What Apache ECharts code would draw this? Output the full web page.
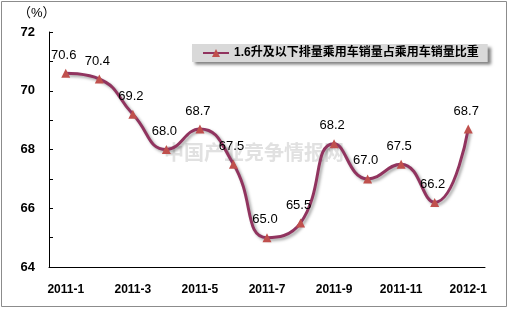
<!DOCTYPE html>
<html><head><meta charset="utf-8">
<script src="https://cdn.jsdelivr.net/npm/echarts@6/dist/echarts.min.js"></script>
<style>html,body{margin:0;padding:0;background:#fff}#c{width:508px;height:309px}</style>
</head><body><div id="c"></div>
<script>
var categories = ['2011-1','2011-2','2011-3','2011-4','2011-5','2011-6','2011-7','2011-8','2011-9','2011-10','2011-11','2011-12','2012-1'];
var values = [70.6, 70.4, 69.2, 68.0, 68.7, 67.5, 65.0, 65.5, 68.2, 67.0, 67.5, 66.2, 68.7];
var seriesName = '1.6升及以下排量乘用车销量占乘用车销量比重';
var yLabels = ['64','66','68','70','72'];
var unitText = '（%）';
var watermark = '中国产业竞争情报网';

var chart = echarts.init(document.getElementById('c'));
chart.setOption({
  animation: false,
  backgroundColor: '#fff',
  graphic: [
    {type:'rect', shape:{x:1.5,y:1.5,width:505,height:305}, style:{fill:'none', stroke:'#8c8c8c', lineWidth:1}, z:-1},
    {type:'text', left:18, top:7, style:{text:unitText, font:'13px "Liberation Sans", "Noto Sans CJK SC"', fill:'#000'}},
    {type:'text', left:164, top:142, style:{text:watermark, font:'bold 20px "Noto Sans CJK SC"', fill:'rgba(195,195,195,0.5)'}, z:0}
  ],
  grid: {left:49, right:23, top:32, bottom:42, containLabel:false},
  legend: {
    left:192, top:44, width:295, height:20,
    padding:[3,9,3,10],
    backgroundColor:'#d9d9d9',
    shadowColor:'rgba(0,0,0,0.5)', shadowBlur:3, shadowOffsetX:3, shadowOffsetY:3,
    itemWidth:26, itemHeight:10, itemGap:4,
    textStyle:{fontFamily:'"Liberation Sans","Noto Sans CJK SC"', fontWeight:'bold', fontSize:12, color:'#000'},
    data:[seriesName]
  },
  xAxis: {
    type:'category', data:categories, boundaryGap:true,
    axisLine:{lineStyle:{color:'#000', width:1}},
    axisTick:{inside:true, length:4, lineStyle:{color:'#000'}},
    axisLabel:{interval:1, margin:17, fontFamily:'"Liberation Sans", Arial', fontWeight:'bold', fontSize:12, color:'#000'}
  },
  yAxis: {
    type:'value', min:64, max:72, interval:1,
    axisLine:{show:true, lineStyle:{color:'#000', width:1}},
    axisTick:{show:true, inside:true, length:4, lineStyle:{color:'#000'}},
    splitLine:{show:false},
    axisLabel:{margin:14, fontFamily:'"Liberation Sans", Arial', fontWeight:'bold', fontSize:13, color:'#000',
      formatter:function(v){ var s=String(v); return yLabels.indexOf(s)>=0 ? s : ''; }}
  },
  series: [{
    name: seriesName, type:'line', data:values, smooth:0.5,
    symbol:'triangle', symbolSize:9,
    itemStyle:{color:'#c0504d'},
    lineStyle:{color:'#91345f', width:3, shadowColor:'rgba(0,0,0,0.35)', shadowBlur:3, shadowOffsetX:2, shadowOffsetY:2},
    label:{show:true, position:'top', distance:7, offset:[-2,0], formatter:function(p){return p.value.toFixed(1);},
      fontFamily:'"Liberation Sans", Arial', fontSize:13, color:'#000'}
  }]
});
</script></body></html>
